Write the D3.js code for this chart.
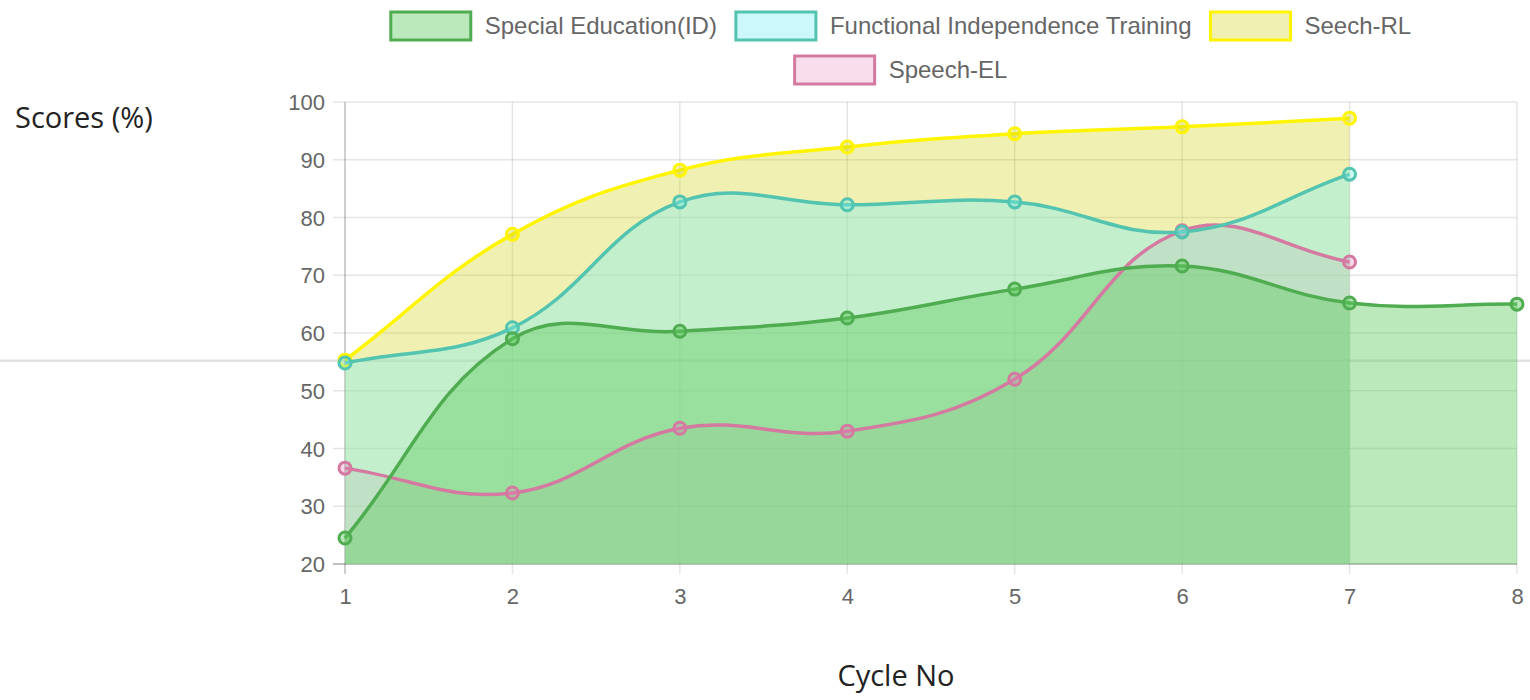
<!DOCTYPE html>
<html><head><meta charset="utf-8">
<script src="https://cdn.jsdelivr.net/npm/d3@7"></script>
<style>html,body{margin:0;padding:0;background:#fff;overflow:hidden} svg{display:block}</style>
</head><body>
<svg id="chart" width="1530" height="700"></svg>
<script>
const cycles = ["1","2","3","4","5","6","7","8"];
const seriesNames = ["Special Education(ID)","Functional Independence Training","Seech-RL","Speech-EL"];
const specialEducation = [24.5, 59.0, 60.3, 62.6, 67.6, 71.6, 65.2, 65.0];
const functionalIndependence = [54.8, 60.9, 82.7, 82.2, 82.7, 77.5, 87.5];
const speechRL = [55.3, 77.1, 88.2, 92.2, 94.5, 95.7, 97.2];
const speechEL = [36.6, 32.3, 43.5, 43.0, 52.0, 77.7, 72.3];
const yTicks = [20, 30, 40, 50, 60, 70, 80, 90, 100];

const seriesValues = [specialEducation, functionalIndependence, speechRL, speechEL];
const lineColors = ["rgb(80,172,80)", "rgb(82,196,176)", "rgb(255,245,0)", "rgb(212,122,160)"];
const fillColors = ["rgba(95,203,95,0.42)", "rgba(127,237,245,0.4)", "rgba(204,204,0,0.3)", "rgba(228,125,185,0.25)"];
const pointFills = ["rgba(95,203,95,0.45)", "rgba(127,237,230,0.4)", "rgba(204,204,0,0.3)", "rgba(228,125,185,0.3)"];

const svg = d3.select("#chart");
const L = 345, R = 1517, T = 102, B = 564;
const x = d3.scalePoint().domain(cycles).range([L, R]);
const y = d3.scaleLinear().domain([20, 100]).range([B, T]);
const FONT = "'Liberation Sans', Arial, Helvetica, sans-serif";

// stray page rule behind chart
svg.append("rect").attr("x", 0).attr("y", 359.5).attr("width", 1530).attr("height", 2.5).attr("fill", "#e2e2e2");

// grid
const grid = svg.append("g");
yTicks.forEach(v => {
  grid.append("line").attr("x1", L - 12).attr("x2", R).attr("y1", y(v)).attr("y2", y(v))
    .attr("stroke", "rgba(0,0,0,0.1)").attr("stroke-width", 1.5);
});
cycles.forEach(c => {
  grid.append("line").attr("x1", x(c)).attr("x2", x(c)).attr("y1", T).attr("y2", B + 10)
    .attr("stroke", c === "1" ? "rgba(0,0,0,0.25)" : "rgba(0,0,0,0.1)").attr("stroke-width", 1.5);
});
grid.append("line").attr("x1", L - 12).attr("x2", R).attr("y1", B).attr("y2", B)
  .attr("stroke", "rgba(0,0,0,0.25)").attr("stroke-width", 1.5);

// tick labels
const yAxis = d3.axisLeft(y).tickValues(yTicks).tickSize(0).tickPadding(20);
const ya = svg.append("g").attr("transform", `translate(${L},0)`).call(yAxis);
ya.select(".domain").remove();
ya.selectAll("text").attr("font-family", FONT).attr("font-size", 22).attr("fill", "#666").attr("dy", "0.35em");
const xAxis = d3.axisBottom(x).tickSize(0).tickPadding(40);
const xa = svg.append("g").attr("transform", `translate(0,${B})`).call(xAxis);
xa.select(".domain").remove();
xa.selectAll("text").attr("font-family", FONT).attr("font-size", 22).attr("fill", "#666").attr("dy", "0em");

// Chart.js-like spline
function splinePoints(vals) {
  return vals.map((v, i) => [x(cycles[i]), y(v)]);
}
function controlPoints(pts, t) {
  return pts.map((p, i) => {
    const prev = pts[i - 1] || p, next = pts[i + 1] || p;
    const d01 = Math.hypot(p[0] - prev[0], p[1] - prev[1]);
    const d12 = Math.hypot(next[0] - p[0], next[1] - p[1]);
    let s01 = d01 / (d01 + d12), s12 = d12 / (d01 + d12);
    if (!isFinite(s01)) s01 = 0;
    if (!isFinite(s12)) s12 = 0;
    const fa = t * s01, fb = t * s12;
    const cap = q => [Math.max(L, Math.min(R, q[0])), Math.max(T, Math.min(B, q[1]))];
    return {
      prev: cap([p[0] - fa * (next[0] - prev[0]), p[1] - fa * (next[1] - prev[1])]),
      next: cap([p[0] + fb * (next[0] - prev[0]), p[1] + fb * (next[1] - prev[1])])
    };
  });
}
function linePath(pts, path) {
  const cps = controlPoints(pts, 0.4);
  path.moveTo(pts[0][0], pts[0][1]);
  for (let i = 1; i < pts.length; i++) {
    path.bezierCurveTo(cps[i - 1].next[0], cps[i - 1].next[1], cps[i].prev[0], cps[i].prev[1], pts[i][0], pts[i][1]);
  }
  return path;
}

const order = [3, 2, 1, 0];
const fills = svg.append("g");
order.forEach(k => {
  const pts = splinePoints(seriesValues[k]);
  const p = linePath(pts, d3.path());
  p.lineTo(pts[pts.length - 1][0], B);
  p.lineTo(pts[0][0], B);
  p.closePath();
  fills.append("path").attr("d", p.toString()).attr("fill", fillColors[k]);
});
const lines = svg.append("g");
order.forEach(k => {
  const pts = splinePoints(seriesValues[k]);
  lines.append("path").attr("d", linePath(pts, d3.path()).toString())
    .attr("fill", "none").attr("stroke", lineColors[k]).attr("stroke-width", 3.5);
  lines.selectAll(null).data(seriesValues[k]).enter().append("circle")
    .attr("cx", (d, i) => x(cycles[i])).attr("cy", d => y(d)).attr("r", 6)
    .attr("fill", pointFills[k]).attr("stroke", lineColors[k]).attr("stroke-width", 3);
});

// legend
const legend = svg.append("g");
const rows = [[0, 1, 2], [3]];
const rowY = [26, 70];
const LFS = 24, BOXW = 80, BOXH = 28, GAP = 14, ITEMGAP = 19, CENTER = 901;
rows.forEach((row, r) => {
  const items = row.map(k => {
    const t = legend.append("text").text(seriesNames[k]).attr("font-family", FONT).attr("font-size", LFS).attr("fill", "#666");
    const w = t.node().getComputedTextLength();
    return { k, t, w, total: BOXW + GAP + w };
  });
  const totalW = d3.sum(items, d => d.total) + ITEMGAP * (items.length - 1);
  let cx = CENTER - totalW / 2;
  items.forEach(it => {
    legend.append("rect").attr("x", cx).attr("y", rowY[r] - BOXH / 2).attr("width", BOXW).attr("height", BOXH)
      .attr("fill", fillColors[it.k]).attr("stroke", lineColors[it.k]).attr("stroke-width", 3);
    it.t.attr("x", cx + BOXW + GAP).attr("y", rowY[r]).attr("dy", "0.35em");
    cx += it.total + ITEMGAP;
  });
});

// axis titles
svg.append("text").text("Scores (%)").attr("x", 15).attr("y", 128)
  .attr("font-family", "'Open Sans', 'Noto Sans', sans-serif").attr("font-size", 29).attr("fill", "#222");
svg.append("text").text("Cycle No").attr("x", 896).attr("y", 686).attr("text-anchor", "middle")
  .attr("font-family", "'Open Sans', 'Noto Sans', sans-serif").attr("font-size", 29).attr("fill", "#222");
</script>
</body></html>
